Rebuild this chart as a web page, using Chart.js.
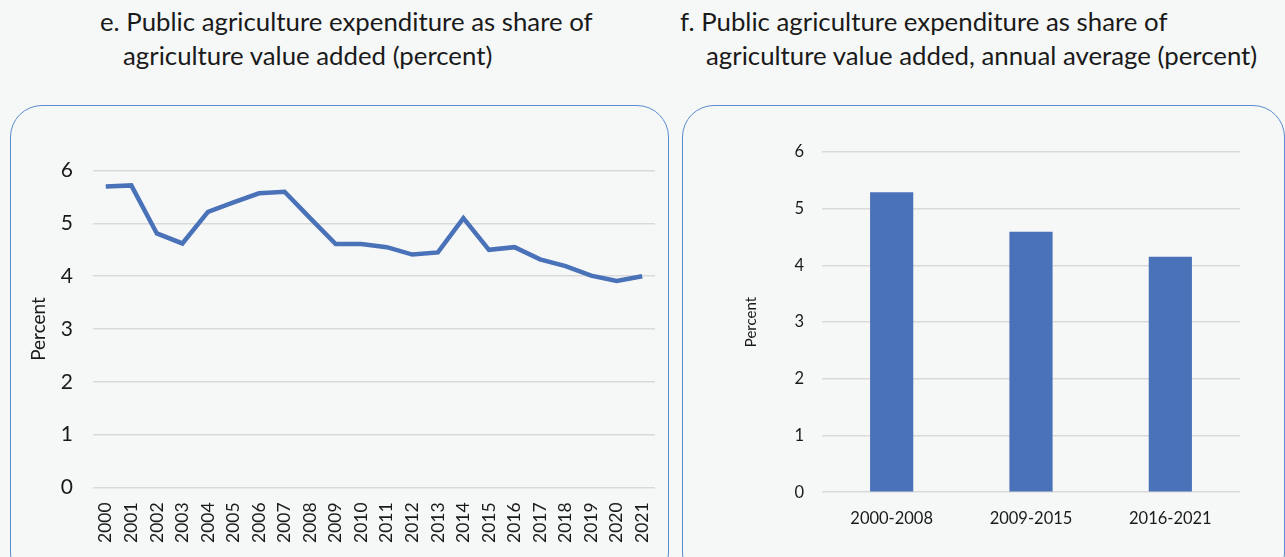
<!DOCTYPE html>
<html>
<head>
<meta charset="utf-8">
<script src="https://cdn.jsdelivr.net/npm/chart.js@4"></script>
<style>
  html, body { margin: 0; padding: 0; }
  body {
    width: 1285px; height: 557px; overflow: hidden; position: relative;
    background: #f6f8f7; font-family: Lato, "Open Sans", sans-serif; color: #111;
  }
  .title { position: absolute; font-size: 25.8px; line-height: 34px; color: #1a1a1a; white-space: nowrap; }
  .panel {
    position: absolute; border: 1px solid #5b8bd0; border-radius: 32px;
    background: #f6f8f7; box-sizing: border-box;
  }
  .box { position: absolute; }
</style>
</head>
<body>
<div class="title" style="left:100px; top:4px;">e. Public agriculture expenditure as share of<br><span style="padding-left:23px">agriculture value added (percent)</span></div>
<div class="title" style="left:680px; top:4px;">f. Public agriculture expenditure as share of<br><span style="padding-left:26px">agriculture value added, annual average (percent)</span></div>

<div class="panel" style="left:10px; top:105px; width:659px; height:480px;"></div>
<div class="panel" style="left:682px; top:105px; width:603px; height:480px;"></div>

<div class="box" style="left:21px; top:138px; width:634px; height:412px;"><canvas id="lineChart"></canvas></div>
<div class="box" style="left:738px; top:124px; width:502px; height:414px;"><canvas id="barChart"></canvas></div>

<script>
// Panel e: annual series
const years = ['2000', '2001', '2002', '2003', '2004', '2005', '2006', '2007', '2008', '2009', '2010',
  '2011', '2012', '2013', '2014', '2015', '2016', '2017', '2018', '2019', '2020', '2021']
const shareValues = [5.70, 5.72, 4.81, 4.62, 5.22, 5.40, 5.57, 5.60, 5.10, 4.61, 4.61,
  4.55, 4.41, 4.45, 5.10, 4.50, 4.55, 4.32, 4.19, 4.01, 3.91, 4.00]

// Panel f: period averages
const periods = ['2000-2008', '2009-2015', '2016-2021']
const averageValues = [5.29, 4.59, 4.15]

const yTicks = [0, 1, 2, 3, 4, 5, 6]

const blue = '#4a72b8'
const gridColor = '#d9d9d9'
const textColor = '#1a1a1a'

Chart.defaults.font.family = 'Lato, "Open Sans", sans-serif'
Chart.defaults.color = textColor
Chart.defaults.animation = false

// keep rotated / wide labels from pushing the plot area inwards
const noSidePadding = (scale) => { scale.paddingLeft = 0; scale.paddingRight = 0 }

new Chart(document.getElementById('lineChart'), {
  type: 'line',
  data: {
    labels: years,
    datasets: [{
      data: shareValues,
      borderColor: blue,
      borderWidth: 4.5,
      pointRadius: 0,
      tension: 0,
      fill: false
    }]
  },
  options: {
    responsive: true,
    maintainAspectRatio: false,
    layout: { padding: { top: 20, right: 0 } },
    plugins: { legend: { display: false }, tooltip: { enabled: false } },
    scales: {
      x: {
        offset: true,
        afterFit: noSidePadding,
        grid: { display: false },
        border: { display: false },
        ticks: { maxRotation: 90, minRotation: 90, autoSkip: false, font: { size: 17.5 }, padding: 7 }
      },
      y: {
        min: 0,
        max: 6,
        afterFit: (scale) => { scale.width = 72 },
        afterBuildTicks: (axis) => { axis.ticks = yTicks.map((v) => ({ value: v })) },
        grid: { color: gridColor, lineWidth: 1.5, drawTicks: false },
        border: { display: false },
        ticks: { font: { size: 21 }, padding: 20 },
        title: { display: true, text: 'Percent', font: { size: 19 }, padding: { top: 6, bottom: 0 } }
      }
    }
  }
})

new Chart(document.getElementById('barChart'), {
  type: 'bar',
  data: {
    labels: periods,
    datasets: [{
      data: averageValues,
      backgroundColor: blue,
      borderWidth: 0,
      categoryPercentage: 1,
      barPercentage: 0.31
    }]
  },
  options: {
    responsive: true,
    maintainAspectRatio: false,
    layout: { padding: { top: 10, right: 0 } },
    plugins: { legend: { display: false }, tooltip: { enabled: false } },
    scales: {
      x: {
        afterFit: noSidePadding,
        grid: { display: false },
        border: { display: false },
        ticks: { font: { size: 16.5 }, padding: 9 }
      },
      y: {
        min: 0,
        max: 6,
        afterFit: (scale) => { scale.width = 84 },
        afterBuildTicks: (axis) => { axis.ticks = yTicks.map((v) => ({ value: v })) },
        grid: { color: gridColor, lineWidth: 1.5, drawTicks: false },
        border: { display: false },
        ticks: { font: { size: 16.5 }, padding: 18 },
        title: { display: true, text: 'Percent', font: { size: 15 }, padding: { top: 4, bottom: 18 } }
      }
    }
  }
})
</script>
</body>
</html>
